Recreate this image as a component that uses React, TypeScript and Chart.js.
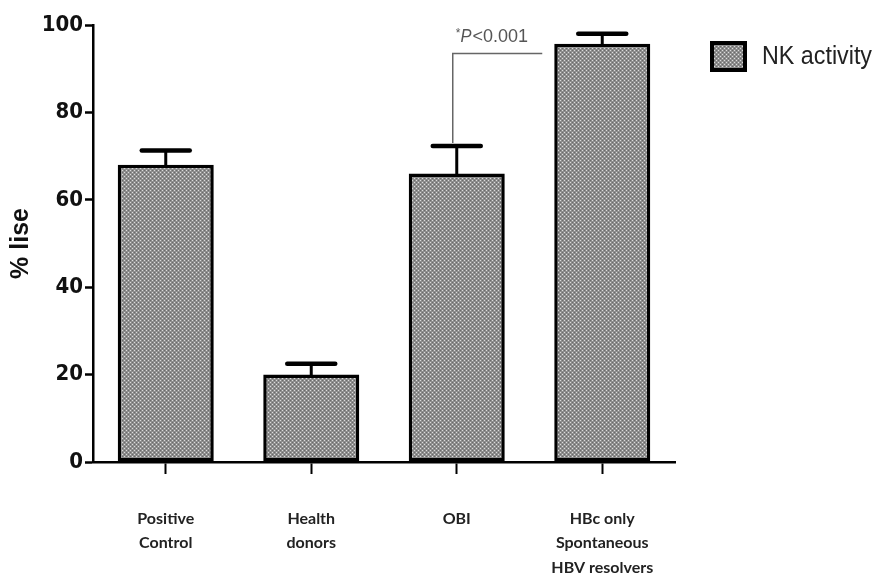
import React, { useEffect, useRef } from "react";
import { Chart, registerables } from "chart.js";

Chart.register(...registerables);

const categories: string[][] = [
  ["Positive", "Control"],
  ["Health", "donors"],
  ["OBI"],
  ["HBc only", "Spontaneous", "HBV resolvers"],
];
const nkActivity: number[] = [68, 20, 66, 95.7];
const nkError: number[] = [3.3, 2.5, 6.3, 2.3];
const yTicks: number[] = [0, 20, 40, 60, 80, 100];
const seriesLabel = "NK activity";
const pValueText = "<0.001";
const bracketFrom = 2; // OBI
const bracketTo = 3; // HBc
const bracketLevel = 93.5;

const NARROW = '"DejaVu Sans Condensed", "Liberation Sans Narrow", "Liberation Sans", Arial, sans-serif';
const SANS = '"Liberation Sans", Arial, sans-serif';

function makePattern(): CanvasPattern | string {
  const c = document.createElement("canvas");
  c.width = 4;
  c.height = 4;
  const g = c.getContext("2d");
  if (!g) return "#999";
  g.fillStyle = "#8e8e8e";
  g.fillRect(0, 0, 4, 4);
  g.fillStyle = "#dcdcdc";
  g.fillRect(0, 0, 1, 1);
  g.fillRect(2, 2, 1, 1);
  g.fillStyle = "#6a6a6a";
  g.fillRect(2, 0, 1, 1);
  g.fillRect(0, 2, 1, 1);
  const p = g.createPattern(c, "repeat");
  return p || "#999";
}

export default function App() {
  const ref = useRef<HTMLCanvasElement | null>(null);

  useEffect(() => {
    document.body.style.margin = "0";
    const canvas = ref.current;
    if (!canvas) return;
    const pattern = makePattern();

    const extras = {
      id: "extras",
      afterDatasetsDraw(chart: any) {
        const ctx = chart.ctx;
        const xs = chart.scales.x;
        const ys = chart.scales.y;
        // error bars
        ctx.save();
        ctx.strokeStyle = "#000";
        ctx.lineCap = "round";
        nkActivity.forEach((v, i) => {
          const x = xs.getPixelForValue(i);
          const yTop = ys.getPixelForValue(v);
          const yErr = ys.getPixelForValue(v + nkError[i]);
          ctx.lineWidth = 3;
          ctx.beginPath();
          ctx.moveTo(x, yTop);
          ctx.lineTo(x, yErr);
          ctx.stroke();
          ctx.lineWidth = 4.5;
          ctx.beginPath();
          ctx.moveTo(x - 24, yErr);
          ctx.lineTo(x + 24, yErr);
          ctx.stroke();
        });
        ctx.restore();

        // significance bracket
        ctx.save();
        ctx.strokeStyle = "#666";
        ctx.lineWidth = 1.5;
        const bx = xs.getPixelForValue(bracketFrom) - 4;
        const by0 = ys.getPixelForValue(nkActivity[bracketFrom] + nkError[bracketFrom]) - 3;
        const by = ys.getPixelForValue(bracketLevel);
        const bx2 = xs.getPixelForValue(bracketTo) - 60;
        ctx.beginPath();
        ctx.moveTo(bx, by0);
        ctx.lineTo(bx, by);
        ctx.lineTo(bx2, by);
        ctx.stroke();
        // text
        ctx.fillStyle = "#555";
        ctx.textBaseline = "alphabetic";
        let tx = bx + 3;
        const ty = by - 11;
        ctx.font = `12px ${SANS}`;
        ctx.fillText("*", tx, ty - 5);
        tx += ctx.measureText("*").width;
        ctx.font = `italic 18px ${SANS}`;
        ctx.fillText("P", tx, ty, 11);
        tx += 12;
        ctx.font = `18px ${SANS}`;
        ctx.fillText(pValueText, tx, ty, 62);
        ctx.restore();
      },
      afterDraw(chart: any) {
        const ctx = chart.ctx;
        ctx.save();
        const lx = 712;
        const ly = 43;
        ctx.fillStyle = pattern as any;
        ctx.fillRect(lx, ly, 33, 27);
        ctx.strokeStyle = "#000";
        ctx.lineWidth = 4;
        ctx.strokeRect(lx, ly, 33, 27);
        ctx.fillStyle = "#222";
        ctx.font = `26px ${SANS}`;
        ctx.textBaseline = "middle";
        ctx.fillText(seriesLabel, 762, ly + 14, 110);
        ctx.restore();
      },
    };

    const chart = new Chart(canvas, {
      type: "bar",
      data: {
        labels: categories,
        datasets: [
          {
            label: seriesLabel,
            data: nkActivity,
            backgroundColor: pattern as any,
            borderColor: "#000",
            borderWidth: 3.5,
            borderSkipped: false,
            barPercentage: 0.66,
            categoryPercentage: 1,
          },
        ],
      },
      options: {
        animation: false,
        responsive: false,
        maintainAspectRatio: false,
        layout: { padding: { top: 25, right: 202, left: 0, bottom: 0 } },
        plugins: {
          legend: { display: false },
          tooltip: { enabled: false },
        },
        scales: {
          x: {
            grid: {
              display: true,
              drawOnChartArea: false,
              drawTicks: true,
              tickLength: 12,
              tickWidth: 2,
              tickColor: "#000",
              offset: false,
            },
            border: { display: true, color: "#000", width: 2.5 },
            ticks: {
              color: "#222",
              font: { family: "Lato, 'Open Sans', sans-serif", size: 16, weight: "bold", lineHeight: 1.55 },
              padding: 32,
              maxRotation: 0,
              autoSkip: false,
            },
            afterFit(scale: any) {
              scale.height = 585 - 462;
            },
          },
          y: {
            min: 0,
            max: 100,
            afterBuildTicks(scale: any) {
              scale.ticks = yTicks.map((v) => ({ value: v }));
            },
            grid: {
              display: true,
              drawOnChartArea: false,
              drawTicks: true,
              tickLength: 8,
              tickWidth: 2.5,
              tickColor: "#000",
            },
            border: { display: true, color: "#000", width: 2.5 },
            ticks: {
              color: "#111",
              font: { family: NARROW, size: 22, weight: "bold" },
              padding: 2,
            },
            title: {
              display: true,
              text: "% lise",
              color: "#111",
              font: { family: SANS, size: 25, weight: "bold" },
              padding: { top: 6, bottom: 0 },
            },
            afterFit(scale: any) {
              scale.width = 93;
            },
          },
        },
      },
      plugins: [extras],
    });
    return () => chart.destroy();
  }, []);

  return (
    <div style={{ position: "absolute", left: 0, top: 0, width: 877, height: 585, background: "#fff" }}>
      <canvas ref={ref} width={877} height={585} style={{ width: 877, height: 585, display: "block" }} />
    </div>
  );
}
